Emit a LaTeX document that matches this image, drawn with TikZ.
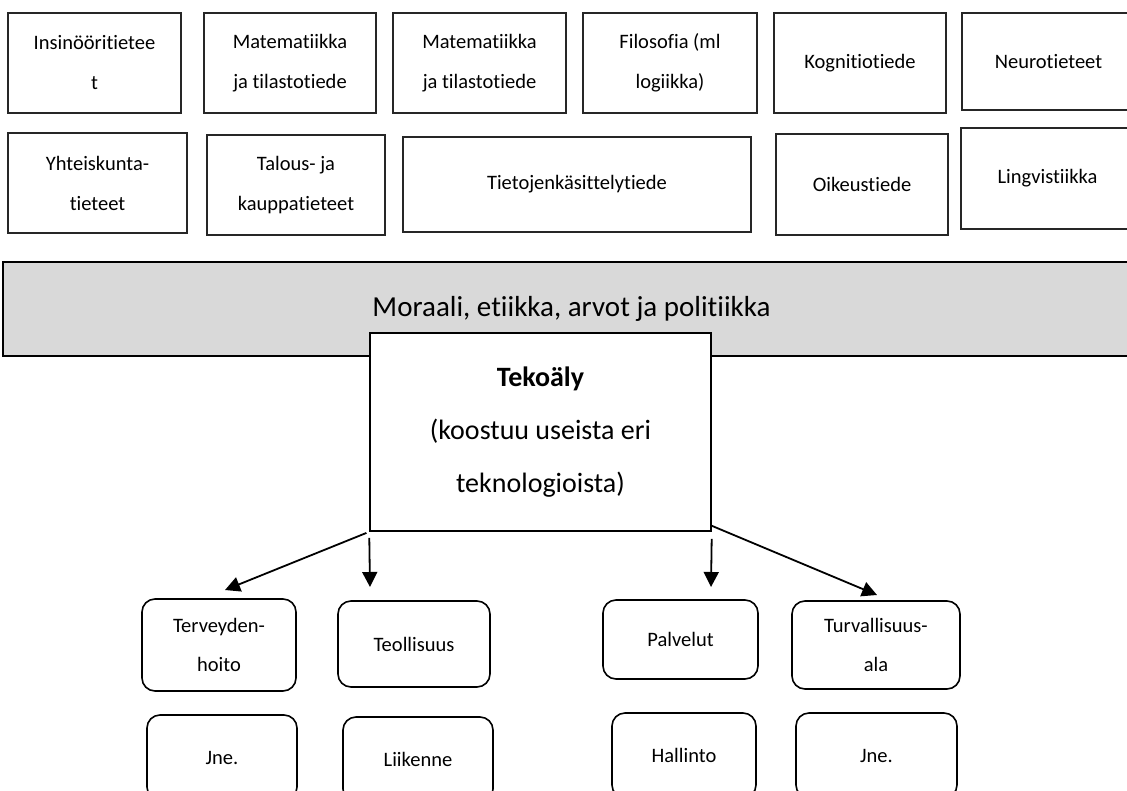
\documentclass[tikz,border=0pt]{standalone}
\usepackage{fontspec}
\setmainfont{Carlito}[Ligatures={NoCommon,NoContextual}]
\usetikzlibrary{arrows.meta}
\tikzset{
  tiede/.style={draw=black!85, line width=1.6pt, inner sep=0pt, align=center, font=\fontsize{20.5}{40}\selectfont},
  ala/.style={draw, line width=1.6pt, rounded corners=13pt, inner sep=0pt, align=center, font=\fontsize{20.5}{39}\selectfont},
  nuoli/.style={line width=1.8pt, -{Triangle[length=15pt,width=15pt]}}
}
\begin{document}
\begin{tikzpicture}[x=1pt,y=-1pt]
		\useasboundingbox (0,0) rectangle (1127,790);
		\clip (0,0) rectangle (1127,790);

		% tieteenalat, ylarivi
		\node[tiede, minimum width=173pt, minimum height=100pt] (insinoori) at (94.5,63) {Insinööritietee\\t};
		\node[tiede, minimum width=172pt, minimum height=100pt] (matikka1) at (290,63) {Matematiikka\\ja tilastotiede};
		\node[tiede, minimum width=173pt, minimum height=100pt] (matikka2) at (479.5,63) {Matematiikka\\ja tilastotiede};
		\node[tiede, minimum width=174pt, minimum height=100pt] (filosofia) at (670,63) {Filosofia (ml\\logiikka)};
		\node[tiede, minimum width=172pt, minimum height=100pt] (kognitio) at (860,63) {Kognitiotiede};
		\node[tiede, minimum width=173pt, minimum height=97pt] (neuro) at (1048.5,61.5) {Neurotieteet};

		% tieteenalat, alarivi
		\node[tiede, minimum width=179pt, minimum height=100pt] (yhteiskunta) at (97.5,183) {Yhteiskunta-\\tieteet};
		\node[tiede, minimum width=178pt, minimum height=100pt] (talous) at (296,185) {Talous- ja\\kauppatieteet};
		\node[tiede, minimum width=348pt, minimum height=95pt] (tietojenk) at (577,184.5) {Tietojenkäsittelytiede};
		\node[tiede, minimum width=172pt, minimum height=101pt] (oikeus) at (862,184.5) {Oikeustiede};
		\node[tiede, minimum width=173pt, minimum height=101pt] (lingv) at (1047.5,178.5) {Lingvistiikka};

		\node[draw, line width=2pt, fill=black!15, minimum width=1137pt, minimum height=94pt, font=\fontsize{29}{35}\selectfont] (moraali) at (571.5,309) {Moraali, etiikka, arvot ja politiikka};

		\node[draw, line width=1.6pt, fill=white, minimum width=341pt, minimum height=198pt, align=center, font=\fontsize{28}{53}\selectfont] (tekoaly) at (540.5,432) {\textbf{Tekoäly}\\(koostuu useista eri\\teknologioista)};

		% sovellusalat
		\node[ala, minimum width=154pt, minimum height=92pt] (terveys) at (219,645) {Terveyden-\\hoito};
		\node[ala, minimum width=152pt, minimum height=86pt] (teollisuus) at (414,644) {Teollisuus};
		\node[ala, minimum width=155pt, minimum height=79pt] (palvelut) at (680.5,639.5) {Palvelut};
		\node[ala, minimum width=168pt, minimum height=88pt] (turva) at (876,645) {Turvallisuus-\\ala};
		\node[ala, minimum width=150pt, minimum height=85pt] (jne1) at (222,757.5) {Jne.};
		\node[ala, minimum width=150pt, minimum height=85pt] (liikenne) at (418,759.5) {Liikenne};
		\node[ala, minimum width=144pt, minimum height=85pt] (hallinto) at (684,755.5) {Hallinto};
		\node[ala, minimum width=161pt, minimum height=85pt] (jne2) at (876.5,755.5) {Jne.};

		\coordinate (terveys-k) at (225,590);
		\coordinate (teollisuus-k) at (370,587);
		\coordinate (palvelut-k) at (711,587);
		\coordinate (turva-k) at (877,595);

		\draw[nuoli, shorten <=3pt] (tekoaly.south west) -- (terveys-k);
		\draw[nuoli, shorten <=6pt] (tekoaly.south west) -- (teollisuus-k);
		\draw[nuoli, shorten <=7pt] (tekoaly.south east) -- (palvelut-k);
		\draw[nuoli] (tekoaly.south east) ++(0,-6) -- (turva-k);
\end{tikzpicture}
\end{document}
